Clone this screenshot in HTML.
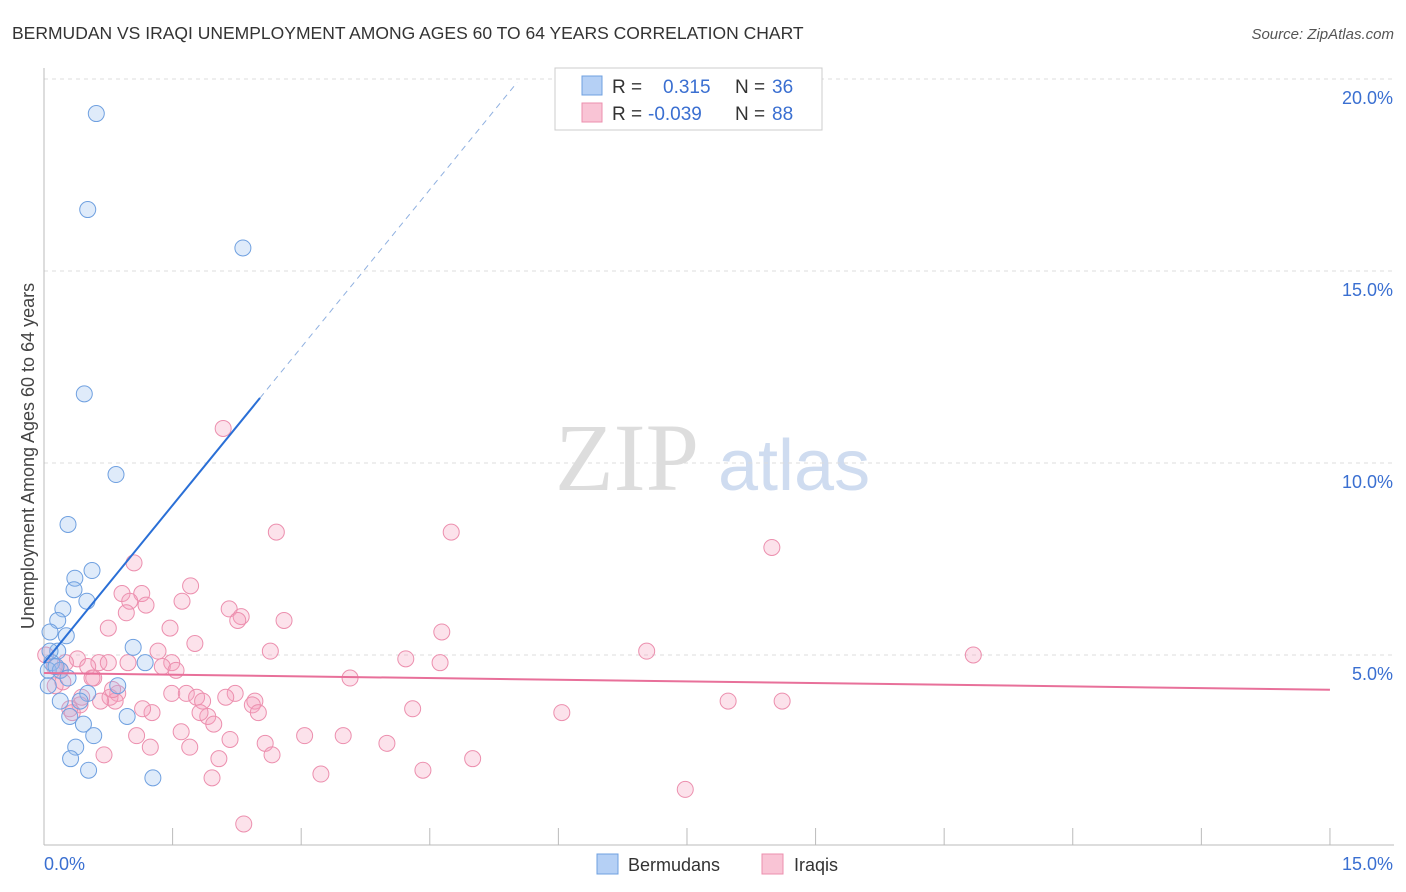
<!DOCTYPE html>
<html><head><meta charset="utf-8"><style>
body{margin:0;background:#fff;font-family:"Liberation Sans",sans-serif;}
#c{position:relative;width:1406px;height:892px;overflow:hidden;}
</style></head><body>
<div id="c">
<svg id="svg" width="1406" height="892" xmlns="http://www.w3.org/2000/svg">
<text x="12" y="39" font-size="17.5" fill="#333">BERMUDAN VS IRAQI UNEMPLOYMENT AMONG AGES 60 TO 64 YEARS CORRELATION CHART</text>
<text x="1394" y="39" font-size="15" fill="#555" font-style="italic" text-anchor="end">Source: ZipAtlas.com</text>
<text x="34" y="456" font-size="18" fill="#444" text-anchor="middle" transform="rotate(-90 34 456)">Unemployment Among Ages 60 to 64 years</text>
<text x="555" y="490" font-size="96" fill="#ddd" font-family="Liberation Serif,serif">ZIP</text>
<text x="718" y="490" font-size="72" fill="#cfdcf0">atlas</text>
<g id="grid"></g><g id="pts"></g><g id="trend"></g>
<g>
<rect x="555" y="68" width="267" height="62" fill="#fff" stroke="#ccc"/>
<rect x="582" y="76" width="20" height="19" fill="#b5d0f5" stroke="#6fa0e0"/>
<rect x="582" y="103" width="20" height="19" fill="#f9c4d5" stroke="#ec8fae"/>
<text x="612" y="93" font-size="19" fill="#333">R = </text><text x="663" y="93" font-size="19" fill="#3a6fd1">0.315</text>
<text x="735" y="93" font-size="19" fill="#333">N = </text><text x="772" y="93" font-size="19" fill="#3a6fd1">36</text>
<text x="612" y="120" font-size="19" fill="#333">R = </text><text x="648" y="120" font-size="19" fill="#3a6fd1">-0.039</text>
<text x="735" y="120" font-size="19" fill="#333">N = </text><text x="772" y="120" font-size="19" fill="#3a6fd1">88</text>
</g>
<g>
<rect x="597" y="854" width="21" height="20" fill="#b5d0f5" stroke="#6fa0e0"/>
<text x="628" y="871" font-size="18" fill="#333">Bermudans</text>
<rect x="762" y="854" width="21" height="20" fill="#f9c4d5" stroke="#ec8fae"/>
<text x="794" y="871" font-size="18" fill="#333">Iraqis</text>
</g>
</svg>
</div>
<script>
const xTicks=[0,1.5,3,4.5,6,7.5,9,10.5,12,13.5,15];
const yTicks=[5,10,15,20];
const yTickLabels=["5.0%","10.0%","15.0%","20.0%"];
const bermX=[0.61,0.51,2.32,0.47,0.84,0.28,0.56,0.36,0.35,0.5,0.22,0.16,0.26,0.07,1.04,1.18,0.16,0.09,0.05,0.19,0.28,0.05,0.86,0.51,0.42,0.19,0.3,0.97,0.46,0.58,0.37,0.31,0.52,1.27,0.07,0.14];
const bermY=[19.1,16.6,15.6,11.8,9.7,8.4,7.2,7.0,6.7,6.4,6.2,5.9,5.5,5.6,5.2,4.8,5.1,4.8,4.6,4.6,4.4,4.2,4.2,4.0,3.8,3.8,3.4,3.4,3.2,2.9,2.6,2.3,2.0,1.8,5.1,4.7];
const iraqX=[2.09,2.71,4.75,8.49,1.05,1.71,0.91,1.14,1.0,1.19,1.61,0.96,2.16,2.3,2.26,2.8,0.75,1.47,4.64,1.76,7.03,10.84,1.33,2.64,4.22,4.62,0.98,0.64,0.39,0.25,1.49,1.38,0.51,1.54,0.58,3.57,0.19,0.13,2.23,0.86,1.49,1.66,2.12,0.77,1.78,1.85,2.46,0.83,0.42,2.43,0.66,4.3,6.04,7.98,8.61,1.26,2.5,1.91,1.98,0.33,1.6,3.04,3.49,1.08,2.58,4.0,1.7,1.24,2.66,0.70,2.04,5.0,3.23,4.42,1.96,7.48,2.33,0.30,0.44,0.22,0.56,0.8,0.02,0.12,0.75,1.15,1.82,2.17];
const iraqY=[10.9,8.2,8.2,7.8,7.4,6.8,6.6,6.6,6.4,6.3,6.4,6.1,6.2,6.0,5.9,5.9,5.7,5.7,5.6,5.3,5.1,5.0,5.1,5.1,4.9,4.8,4.8,4.8,4.9,4.8,4.8,4.7,4.7,4.6,4.4,4.4,4.6,4.2,4.0,4.0,4.0,4.0,3.9,3.9,3.9,3.8,3.8,3.8,3.7,3.7,3.8,3.6,3.5,3.8,3.8,3.5,3.5,3.4,3.2,3.5,3.0,2.9,2.9,2.9,2.7,2.7,2.6,2.6,2.4,2.4,2.3,2.3,1.9,2.0,1.8,1.5,0.6,3.6,3.9,4.3,4.4,4.1,5.0,4.7,4.8,3.6,3.5,2.8];
const X=v=>44+v*85.73, Y=v=>847-v*38.4;
const NS="http://www.w3.org/2000/svg";
function mk(t,a,p){const e=document.createElementNS(NS,t);for(const k in a)e.setAttribute(k,a[k]);p.appendChild(e);return e;}
const grid=document.getElementById('grid');
yTicks.forEach((t,i)=>{
 const l=mk('line',{x1:44,x2:1394,y1:Y(t),y2:Y(t),stroke:'#ddd','stroke-dasharray':'4,4'},grid);
 
 
 const tx=mk('text',{x:1393,y:Y(t)+25,'font-size':18,fill:'#3a6fd1','text-anchor':'end'},grid);
 tx.textContent=yTickLabels[i];
 
 
});
const ax=mk('line',{x1:44,x2:1394,y1:845,y2:845,stroke:'#bbb'},grid);


const ay=mk('line',{x1:44,x2:44,y1:68,y2:845,stroke:'#bbb'},grid);


xTicks.forEach(t=>{
 const l=mk('line',{x1:X(t),x2:X(t),y1:828,y2:845,stroke:'#bbb'},grid);
 
 
});
const xl0=mk('text',{x:44,y:870,'font-size':18,fill:'#3a6fd1'},grid);xl0.textContent='0.0%';


const xl1=mk('text',{x:1393,y:870,'font-size':18,fill:'#3a6fd1','text-anchor':'end'},grid);xl1.textContent='15.0%';


const pts=document.getElementById('pts');
iraqX.forEach((x,i)=>{
 const c=mk('circle',{cx:X(x),cy:Y(iraqY[i]),r:8,fill:'rgba(245,160,190,0.3)',stroke:'#ec8fae','stroke-width':1},pts);
 
 
});
bermX.forEach((x,i)=>{
 const c=mk('circle',{cx:X(x),cy:Y(bermY[i]),r:8,fill:'rgba(150,190,240,0.3)',stroke:'#6fa0e0','stroke-width':1},pts);
 
 
});
const tr=document.getElementById('trend');
const b0=4.79,b1=2.74,i0=4.53,i1=-0.029;
const t1=mk('line',{x1:X(0),y1:Y(b0),x2:X(2.52),y2:Y(b0+b1*2.52),stroke:'#2a6fd6','stroke-width':2},tr);


const t2=mk('line',{x1:X(2.52),y1:Y(b0+b1*2.52),x2:X(5.52),y2:Y(b0+b1*5.52),stroke:'#8fb0e0','stroke-width':1,'stroke-dasharray':'6,5'},tr);


const t3=mk('line',{x1:X(0),y1:Y(i0),x2:X(15),y2:Y(i0+i1*15),stroke:'#e8709a','stroke-width':2},tr);


</script>
</body></html>
